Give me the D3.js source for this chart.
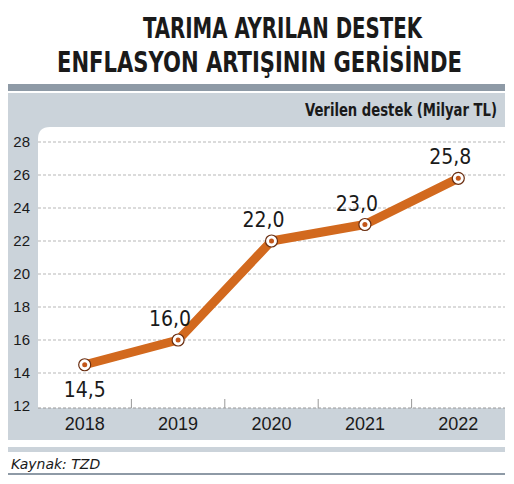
<!DOCTYPE html>
<html><head><meta charset="utf-8">
<script src="https://cdn.jsdelivr.net/npm/d3@7"></script>
<style>body{margin:0;background:#fff}text{font-family:"Liberation Sans Narrow","DejaVu Sans Condensed",sans-serif}</style>
</head><body><div id="chart"></div>
<script>
// Chart data
//
var years  = ['2018', '2019', '2020', '2021', '2022'];
var values = [14.5, 16.0, 22.0, 23.0, 25.8];
var labels = ['14,5', '16,0', '22,0', '23,0', '25,8'];
var yTicks = [12, 14, 16, 18, 20, 22, 24, 26, 28];

var svg = d3.select('#chart').append('svg').attr('width', 514).attr('height', 484);

// Title (squeezed to mimic a condensed face)
//
svg.append('text').attr('x', 143).attr('y', 38)
    .attr('textLength', 279).attr('lengthAdjust', 'spacingAndGlyphs')
    .style('font-size', '29px').style('font-weight', 'bold').attr('fill', '#1a1a1a')
    .text('TARIMA AYRILAN DESTEK');
svg.append('text').attr('x', 57).attr('y', 72)
    .attr('textLength', 405).attr('lengthAdjust', 'spacingAndGlyphs')
    .style('font-size', '29px').style('font-weight', 'bold').attr('fill', '#1a1a1a')
    .text('ENFLASYON ARTIŞININ GERİSİNDE');

// Panel
//
svg.append('rect').attr('x', 8).attr('y', 84).attr('width', 497).attr('height', 7).attr('fill', '#8e9aa6');
svg.append('rect').attr('x', 8).attr('y', 93).attr('width', 497).attr('height', 347).attr('fill', '#cbd3da');
svg.append('path').attr('d', 'M38,408 V139 Q38,127 50,127 H505 V408 Z').attr('fill', '#fff');
svg.append('text').attr('x', 305).attr('y', 116)
    .attr('textLength', 192).attr('lengthAdjust', 'spacingAndGlyphs')
    .style('font-size', '17px').style('font-weight', 'bold').attr('fill', '#1a1a1a')
    .text('Verilen destek (Milyar TL)');

var x = d3.scaleBand().domain(years).range([38, 505]);
var y = d3.scaleLinear().domain([12, 28]).range([406, 142]);

// Grid
//
svg.append('g').selectAll('line').data(yTicks.slice(1)).join('line')
    .attr('x1', 38).attr('x2', 505).attr('y1', d => y(d)).attr('y2', d => y(d))
    .attr('stroke', '#999').attr('stroke-dasharray', '3,2').attr('stroke-width', 0.7);

var yAxis = svg.append('g').attr('transform', 'translate(30,0)')
    .call(d3.axisLeft(y).tickValues(yTicks).tickSize(0).tickPadding(0));
yAxis.select('.domain').remove();
yAxis.selectAll('text').style('font-size', '15px').attr('fill', '#1a1a1a')
    .style('font-family', '"Liberation Sans Narrow",sans-serif');

// X axis
//
svg.append('line').attr('x1', 38).attr('x2', 505).attr('y1', 408).attr('y2', 408)
    .attr('stroke', '#999').attr('stroke-dasharray', '3,2');
svg.append('g').selectAll('line').data(years.slice(1)).join('line')
    .attr('x1', d => x(d)).attr('x2', d => x(d)).attr('y1', 399).attr('y2', 408)
    .attr('stroke', '#999');
var xAxis = svg.append('g').attr('transform', 'translate(0,412)')
    .call(d3.axisBottom(x).tickSize(0).tickPadding(0));
xAxis.select('.domain').remove();
xAxis.selectAll('text').attr('dy', '1em').style('font-size', '18px').attr('fill', '#1a1a1a')
    .style('font-family', '"Liberation Sans Narrow",sans-serif');

// Line
//
var pts = years.map((d, i) => ({ x: x(d) + x.bandwidth() / 2, y: y(values[i]), l: labels[i] }));
svg.append('path').datum(pts)
    .attr('d', d3.line().x(d => d.x).y(d => d.y))
    .attr('fill', 'none').attr('stroke', '#d2691e').attr('stroke-width', 9).attr('stroke-linejoin', 'round');
svg.append('g').selectAll('circle').data(pts).join('circle')
    .attr('cx', d => d.x).attr('cy', d => d.y).attr('r', 6)
    .attr('fill', '#fff').attr('stroke', '#6b2e10').attr('stroke-width', 1.2);
svg.append('g').selectAll('circle').data(pts).join('circle')
    .attr('cx', d => d.x).attr('cy', d => d.y).attr('r', 2.5).attr('fill', '#c2561a');

svg.append('g').selectAll('text').data(pts).join('text')
    .attr('x', (d, i) => i == 0 ? d.x : d.x - 8)
    .attr('y', (d, i) => i == 0 ? d.y + 32 : d.y - 14)
    .attr('text-anchor', 'middle').style('font-size', '21px').attr('fill', '#1a1a1a')
    .text(d => d.l);

// Footer
//
svg.append('rect').attr('x', 8).attr('y', 447).attr('width', 497).attr('height', 5).attr('fill', '#cbd3da');
svg.append('text').attr('x', 11).attr('y', 469).style('font-size', '14px').style('font-style', 'italic')
    .style('font-family', 'DejaVu Sans,sans-serif').attr('fill', '#1a1a1a').text('Kaynak: TZD');
svg.append('rect').attr('x', 8).attr('y', 473).attr('width', 497).attr('height', 2).attr('fill', '#8e9aa6');
</script></body></html>
